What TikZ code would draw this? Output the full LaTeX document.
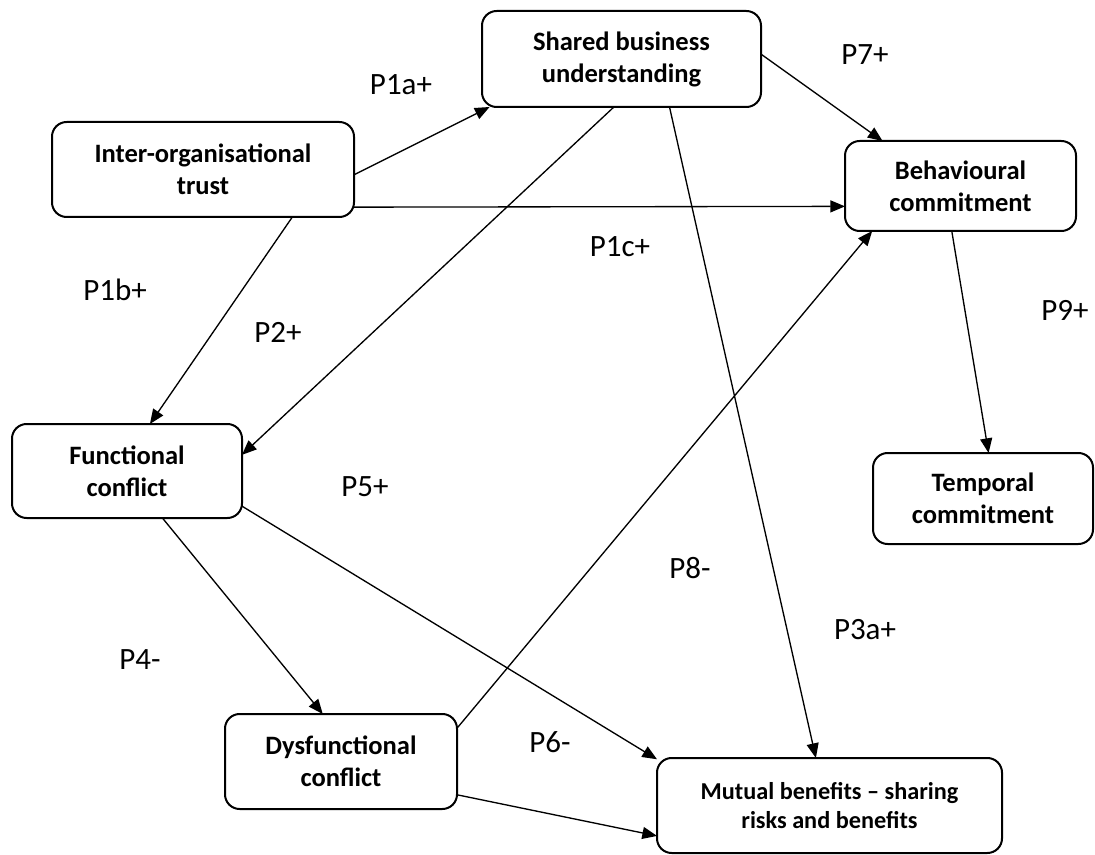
\documentclass[tikz,border=0pt]{standalone}
\usepackage{fontspec}
\setmainfont{Carlito}
\usetikzlibrary{arrows.meta}
\tikzset{>={Triangle[length=11pt,width=9pt]}}
\tikzset{box/.style={draw, line width=1.5pt, rounded corners=11pt, align=center, inner sep=0pt, outer sep=0pt, font=\bfseries\fontsize{19.9}{24}\selectfont}}
\tikzset{plabel/.style={font=\fontsize{23.25}{28}\selectfont}}

\begin{document}
\begin{tikzpicture}[x=0.75pt, y=-0.75pt, line width=1pt]
\useasboundingbox (0,0) rectangle (1095,855);
\node[box, minimum width=209.25pt, minimum height=72pt] (shared) at (621.5,59) {Shared business\\understanding};
\node[box, minimum width=226.5pt, minimum height=71.25pt] (trust) at (203,169.5) {Inter-organisational\\trust};
\node[box, minimum width=173.25pt, minimum height=67.5pt] (behav) at (960.5,186) {Behavioural\\commitment};
\node[box, minimum width=172.5pt, minimum height=70.5pt] (func) at (127,471) {Functional\\conflict};
\node[box, minimum width=165pt, minimum height=68.25pt] (temporal) at (983,498.5) {Temporal\\commitment};
\node[box, minimum width=174pt, minimum height=71.25pt] (dysf) at (341,761.5) {Dysfunctional\\conflict};
\node[box, minimum width=258.75pt, minimum height=71.25pt, font=\bfseries\fontsize{18.2}{21.75}\selectfont] (mutual) at (829.5,805.5) {Mutual benefits – sharing\\risks and benefits};
% propositions
\node[plabel] (p1a) at (401,85) {P1a+};
\node[plabel] (p7) at (865,55) {P7+};
\node[plabel] (p1b) at (115,290) {P1b+};
\node[plabel] (p1c) at (620,247) {P1c+};
\node[plabel] (p2) at (278,332) {P2+};
\node[plabel] (p9) at (1065,310) {P9+};
\node[plabel] (p5) at (365,487) {P5+};
\node[plabel] (p8) at (690,568) {P8-};
\node[plabel] (p3a) at (865,630) {P3a+};
\node[plabel] (p4) at (140,660) {P4-};
\node[plabel] (p6) at (550,742) {P6-};
% links
\draw[->] (trust.-2.9) -- (shared.200.7);
\draw[->] (trust.-14) -- (behav.190.8);
\draw[->] (trust.-28.6) -- (func.64.4);
\draw[->] (shared.261.3) -- (func.8.3);
\draw[->] (shared.2.9) -- (behav.150.3);
\draw[->] (shared.-45.3) -- (mutual.106.3);
\draw[->] (behav.259.3) -- (temporal.83.9);
\draw[->] (func.-53.3) -- (dysf.111.4);
\draw[->] (func.-17.8) -- (mutual.165.3);
\draw[->] (dysf.16.6) -- (behav.207.7);
\draw[->] (dysf.-16.1) -- (mutual.190.3);
\end{tikzpicture}
\end{document}
